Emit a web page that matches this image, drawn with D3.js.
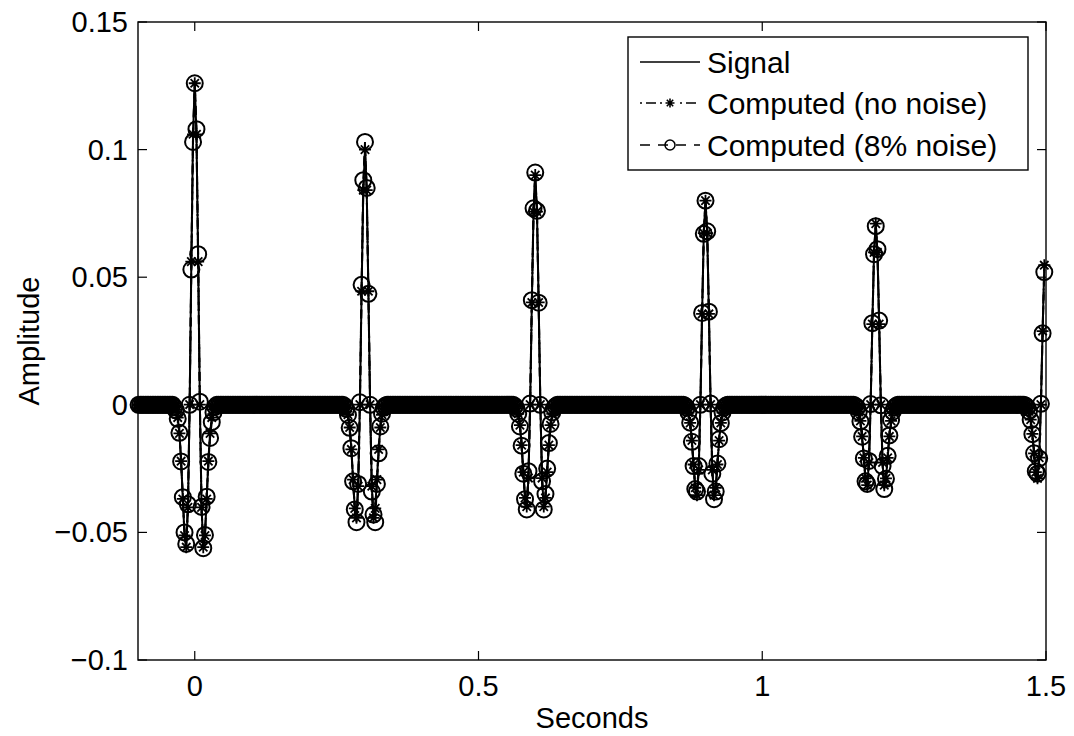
<!DOCTYPE html>
<html>
<head>
<meta charset="utf-8">
<script src="https://cdn.jsdelivr.net/npm/d3@7/dist/d3.min.js"></script>
<style>
  body { margin: 0; background: #fff; }
  svg text { font-family: "Liberation Sans", Arial, Helvetica, sans-serif; fill: #000; }
</style>
</head>
<body>
<div id="chart"></div>
<script>
// sampled trace: one sample every 3 ms, from -0.099 s to 1.497 s
var sampleStep = 0.003;
var firstSample = -33;
var lastSample = 499;

// reflection pulses (seconds) and their samples at offsets -12..+12
var pulseTimes = [0, 0.3, 0.6, 0.9, 1.2, 1.5];

var signalPulses = [
  [-0.0006,-0.0019,-0.0050,-0.0112,-0.0221,-0.0369,-0.0512,-0.0558,-0.0402,0.0001,0.0561,0.1060,0.1260,0.1060,0.0561,0.0001,-0.0402,-0.0558,-0.0512,-0.0369,-0.0221,-0.0112,-0.0050,-0.0019,-0.0006],
  [-0.0005,-0.0015,-0.0039,-0.0089,-0.0175,-0.0293,-0.0406,-0.0443,-0.0319,0.0001,0.0445,0.0841,0.1000,0.0841,0.0445,0.0001,-0.0319,-0.0443,-0.0406,-0.0293,-0.0175,-0.0089,-0.0039,-0.0015,-0.0005],
  [-0.0005,-0.0014,-0.0035,-0.0080,-0.0158,-0.0264,-0.0365,-0.0399,-0.0287,0.0001,0.0401,0.0757,0.0900,0.0757,0.0401,0.0001,-0.0287,-0.0399,-0.0365,-0.0264,-0.0158,-0.0080,-0.0035,-0.0014,-0.0005],
  [-0.0004,-0.0012,-0.0031,-0.0071,-0.0140,-0.0234,-0.0325,-0.0354,-0.0255,0.0001,0.0356,0.0673,0.0800,0.0673,0.0356,0.0001,-0.0255,-0.0354,-0.0325,-0.0234,-0.0140,-0.0071,-0.0031,-0.0012,-0.0004],
  [-0.0004,-0.0011,-0.0028,-0.0063,-0.0124,-0.0208,-0.0288,-0.0315,-0.0226,0.0001,0.0316,0.0597,0.0710,0.0597,0.0316,0.0001,-0.0226,-0.0315,-0.0288,-0.0208,-0.0124,-0.0063,-0.0028,-0.0011,-0.0004],
  [-0.0003,-0.0010,-0.0025,-0.0058,-0.0114,-0.0190,-0.0264,-0.0288,-0.0207,0.0001,0.0289,0.0547]
];

// no-noise result sits on the signal
var noNoisePulses = signalPulses;

var noisyPulses = [
  [-0.0010,-0.0022,-0.0055,-0.0110,-0.0222,-0.0362,-0.0500,-0.0545,-0.0390,0.0000,0.0530,0.1030,0.1260,0.1080,0.0590,0.0012,-0.0400,-0.0562,-0.0510,-0.0360,-0.0224,-0.0130,-0.0068,-0.0030,-0.0008],
  [-0.0005,-0.0016,-0.0040,-0.0090,-0.0170,-0.0300,-0.0410,-0.0460,-0.0310,0.0010,0.0470,0.0880,0.1030,0.0850,0.0435,0.0000,-0.0340,-0.0430,-0.0460,-0.0310,-0.0190,-0.0085,-0.0035,-0.0012,-0.0003],
  [-0.0005,-0.0015,-0.0035,-0.0085,-0.0160,-0.0270,-0.0370,-0.0410,-0.0260,0.0005,0.0410,0.0770,0.0910,0.0760,0.0400,0.0000,-0.0300,-0.0410,-0.0350,-0.0250,-0.0150,-0.0075,-0.0030,-0.0013,-0.0005],
  [-0.0004,-0.0012,-0.0030,-0.0070,-0.0145,-0.0240,-0.0330,-0.0340,-0.0240,0.0000,0.0360,0.0670,0.0800,0.0680,0.0365,0.0005,-0.0270,-0.0370,-0.0340,-0.0230,-0.0135,-0.0072,-0.0030,-0.0011,-0.0003],
  [-0.0004,-0.0010,-0.0028,-0.0065,-0.0125,-0.0210,-0.0300,-0.0310,-0.0220,0.0003,0.0320,0.0590,0.0700,0.0610,0.0330,-0.0002,-0.0240,-0.0330,-0.0290,-0.0200,-0.0120,-0.0060,-0.0027,-0.0011,-0.0004],
  [-0.0003,-0.0010,-0.0025,-0.0060,-0.0115,-0.0190,-0.0260,-0.0270,-0.0210,0.0004,0.0280,0.0520]
];

var xTicks = [0, 0.5, 1, 1.5];
var yTicks = [-0.1, -0.05, 0, 0.05, 0.1, 0.15];
var legendLabels = ['Signal', 'Computed (no noise)', 'Computed (8% noise)'];

const W = 1074, H = 736;
const plot = {left: 138, right: 1046, top: 22, bottom: 660};

const x = d3.scaleLinear().domain([-0.1, 1.5]).range([plot.left, plot.right]);
const y = d3.scaleLinear().domain([-0.1, 0.15]).range([plot.bottom, plot.top]);

const svg = d3.select('#chart').append('svg')
  .attr('width', W).attr('height', H);

var buildSeries = function(pulses) {
  return d3.range(firstSample, lastSample + 1).map(n => {
    var v = 0;
    pulseTimes.forEach((pt, i) => {
      var k = n - Math.round(pt / sampleStep) + 12;
      if (k >= 0 && pulses[i][k] !== undefined) v = pulses[i][k];
    });
    return {t: n * sampleStep, v: v};
  });
};

const signal = buildSeries(signalPulses);
const noNoise = buildSeries(noNoisePulses);
const noisy = buildSeries(noisyPulses);

const line = d3.line().x(d => x(d.t)).y(d => y(d.v));
const starPath = 'M-6,0H6M0,-6V6M-4.2,-4.2L4.2,4.2M-4.2,4.2L4.2,-4.2';

// Signal
svg.append('path').datum(signal)
  .attr('d', line).attr('fill', 'none')
  .attr('stroke', '#000').attr('stroke-width', 2);

// Computed (no noise)
svg.append('path').datum(noNoise)
  .attr('d', line).attr('fill', 'none')
  .attr('stroke', '#000').attr('stroke-width', 2)
  .attr('stroke-dasharray', '9,4,2,4');
svg.append('g').selectAll('path')
  .data(noNoise).enter().append('path')
  .attr('transform', d => `translate(${x(d.t)},${y(d.v)})`)
  .attr('d', starPath)
  .attr('stroke', '#000').attr('stroke-width', 1.8);

// Computed (8% noise)
svg.append('path').datum(noisy)
  .attr('d', line).attr('fill', 'none')
  .attr('stroke', '#000').attr('stroke-width', 2)
  .attr('stroke-dasharray', '9,5');
svg.append('g').selectAll('circle')
  .data(noisy).enter().append('circle')
  .attr('cx', d => x(d.t)).attr('cy', d => y(d.v))
  .attr('r', 8)
  .attr('fill', 'none').attr('stroke', '#000').attr('stroke-width', 2);

// axes box
svg.append('rect')
  .attr('x', plot.left).attr('y', plot.top)
  .attr('width', plot.right - plot.left).attr('height', plot.bottom - plot.top)
  .attr('fill', 'none').attr('stroke', '#000').attr('stroke-width', 1.4);

const tickLen = 9;
const gx = svg.append('g');
xTicks.forEach(t => {
  gx.append('line').attr('x1', x(t)).attr('x2', x(t))
    .attr('y1', plot.bottom).attr('y2', plot.bottom - tickLen)
    .attr('stroke', '#000').attr('stroke-width', 1.2);
  gx.append('line').attr('x1', x(t)).attr('x2', x(t))
    .attr('y1', plot.top).attr('y2', plot.top + tickLen)
    .attr('stroke', '#000').attr('stroke-width', 1.2);
  gx.append('text').attr('x', x(t)).attr('y', plot.bottom + 36)
    .attr('text-anchor', 'middle').attr('font-size', 29)
    .text(d3.format('')(t));
});

const fmtY = v => (v < 0 ? '\u2212' : '') + String(Math.abs(v));
const gy = svg.append('g');
yTicks.forEach(t => {
  gy.append('line').attr('x1', plot.left).attr('x2', plot.left + tickLen)
    .attr('y1', y(t)).attr('y2', y(t))
    .attr('stroke', '#000').attr('stroke-width', 1.2);
  gy.append('line').attr('x1', plot.right).attr('x2', plot.right - tickLen)
    .attr('y1', y(t)).attr('y2', y(t))
    .attr('stroke', '#000').attr('stroke-width', 1.2);
  gy.append('text').attr('x', plot.left - 10).attr('y', y(t) + 10)
    .attr('text-anchor', 'end').attr('font-size', 29)
    .text(fmtY(t));
});

svg.append('text')
  .attr('x', (plot.left + plot.right) / 2).attr('y', 728)
  .attr('text-anchor', 'middle').attr('font-size', 29)
  .text('Seconds');
svg.append('text')
  .attr('transform', `translate(39,${(plot.top + plot.bottom) / 2}) rotate(-90)`)
  .attr('text-anchor', 'middle').attr('font-size', 29)
  .text('Amplitude');

// legend
const lg = svg.append('g');
lg.append('rect')
  .attr('x', 628).attr('y', 37).attr('width', 400).attr('height', 133)
  .attr('fill', '#fff').attr('stroke', '#000').attr('stroke-width', 1.4);
const rowY = [62, 103, 145];
legendLabels.forEach((lab, i) => {
  lg.append('text').attr('x', 707).attr('y', rowY[i] + 11)
    .attr('font-size', 30).text(lab);
});
lg.append('line').attr('x1', 640).attr('x2', 700)
  .attr('y1', rowY[0]).attr('y2', rowY[0])
  .attr('stroke', '#000').attr('stroke-width', 1.6);
lg.append('line').attr('x1', 640).attr('x2', 700)
  .attr('y1', rowY[1]).attr('y2', rowY[1])
  .attr('stroke', '#000').attr('stroke-width', 1.6)
  .attr('stroke-dasharray', '2,4,10,4');
lg.append('rect').attr('x', 662).attr('y', rowY[1] - 7).attr('width', 16).attr('height', 14).attr('fill', '#fff');
lg.append('path').attr('transform', `translate(670,${rowY[1]})`)
  .attr('d', 'M-4.5,0H4.5M0,-4.5V4.5M-3.2,-3.2L3.2,3.2M-3.2,3.2L3.2,-3.2')
  .attr('stroke', '#000').attr('stroke-width', 1.6);
lg.append('line').attr('x1', 640).attr('x2', 700)
  .attr('y1', rowY[2]).attr('y2', rowY[2])
  .attr('stroke', '#000').attr('stroke-width', 1.6)
  .attr('stroke-dasharray', '10,8');
lg.append('circle').attr('cx', 670).attr('cy', rowY[2]).attr('r', 5)
  .attr('fill', 'none').attr('stroke', '#000').attr('stroke-width', 1.5);
</script>
</body>
</html>
